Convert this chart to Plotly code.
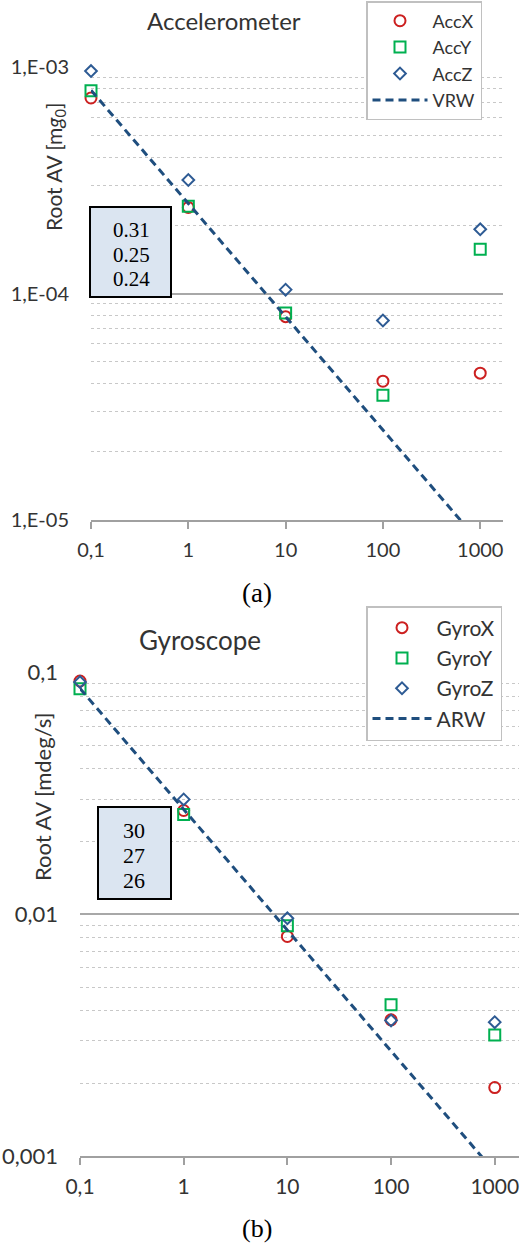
import plotly.graph_objects as go

W, H = 527, 1244

# ---------------- data ----------------
tau = [0.1, 1, 10, 100, 1000]

acc_x = [7.3e-4, 2.40e-4, 7.9e-5, 4.1e-5, 4.45e-5]
acc_y = [7.85e-4, 2.43e-4, 8.2e-5, 3.55e-5, 1.57e-4]
acc_z = [9.6e-4, 3.17e-4, 1.04e-4, 7.6e-5, 1.92e-4]
vrw_tau = [0.1, 1000]
vrw = [7.9e-4, 7.9e-6]

gyro_x = [0.0924, 0.0269, 0.0081, 0.00366, 0.00192]
gyro_y = [0.0859, 0.0259, 0.00898, 0.00423, 0.00317]
gyro_z = [0.0915, 0.0299, 0.00963, 0.00364, 0.00358]
arw_tau = [0.1, 1000]
arw = [0.086, 0.00086]

x_tickvals = [0.1, 1, 10, 100, 1000]
x_ticktext = ["0,1", "1", "10", "100", "1000"]
ya_tickvals = [1e-5, 1e-4, 1e-3]
ya_ticktext = ["1,E-05", "1,E-04", "1,E-03"]
yb_tickvals = [0.001, 0.01, 0.1]
yb_ticktext = ["0,001", "0,01", "0,1"]

box_a = ["0.31", "0.25", "0.24"]
box_b = ["30", "27", "26"]

# ---------------- styles ----------------
RED = "#cc2020"
GREEN = "#00b050"
BLUE = "#2e5b94"
NAVY = "#1f4e7e"
SANS = "Lato, 'Open Sans', sans-serif"
SERIF = "'Liberation Serif', 'Times New Roman', serif"
TXT = "#333333"


def px_x(p):
    return p / W


def px_y(p):
    return 1 - p / H


fig = go.Figure()


def add_group(xs, ys_list, names, line_x, line_y, line_name, xa, ya, legend):
    syms = [("circle-open", RED, 11), ("square-open", GREEN, 11), ("diamond-open", BLUE, 9)]
    for ys, nm, (sym, col, sz) in zip(ys_list, names, syms):
        fig.add_trace(go.Scatter(
            x=xs, y=ys, name=nm, mode="markers", xaxis=xa, yaxis=ya, legend=legend,
            marker=dict(symbol=sym, size=sz, color=col, line=dict(color=col, width=2)),
            cliponaxis=False,
        ))
    fig.add_trace(go.Scatter(
        x=line_x, y=line_y, name=line_name, mode="lines", xaxis=xa, yaxis=ya, legend=legend,
        line=dict(color=NAVY, width=3, dash="8px,5px"),
    ))


add_group(tau, [acc_x, acc_y, acc_z], ["AccX", "AccY", "AccZ"], vrw_tau, vrw, "VRW", "x", "y", "legend")
add_group(tau, [gyro_x, gyro_y, gyro_z], ["GyroX", "GyroY", "GyroZ"], arw_tau, arw, "ARW", "x2", "y2", "legend2")


def xaxis_cfg(dom, size, anchor):
    return dict(
        type="log", domain=dom, range=[-1, 3.234], anchor=anchor, automargin=False,
        tickvals=x_tickvals, ticktext=x_ticktext,
        showgrid=False, showline=True, linecolor="#a0a0a0", linewidth=1.5,
        ticks="outside", ticklen=7, tickcolor="#a0a0a0", tickwidth=1.5,
        ticklabelstandoff=4,
        tickfont=dict(family=SANS, size=size, color=TXT),
        zeroline=False, fixedrange=True,
    )


def yaxis_cfg(dom, rng, tv, tt, size, anchor):
    return dict(
        type="log", domain=dom, range=rng, anchor=anchor, automargin=False,
        tickvals=tv, ticktext=tt,
        showgrid=True, gridcolor="#a8a8a8", gridwidth=1.5,
        showline=False, ticks="", ticklabelstandoff=21,
        tickfont=dict(family=SANS, size=size, color=TXT),
        minor=dict(dtick="D1", showgrid=True, gridcolor="#c8c8c8", griddash="dot", gridwidth=1, ticks=""),
        zeroline=False, fixedrange=True,
    )


fig.update_layout(
    width=W, height=H,
    margin=dict(l=0, r=0, t=0, b=0, pad=0, autoexpand=False),
    paper_bgcolor="white", plot_bgcolor="white",
    showlegend=True,
    xaxis=xaxis_cfg([px_x(91), px_x(503)], 20, "y"),
    yaxis=yaxis_cfg([px_y(520), px_y(67)], [-5, -3], ya_tickvals, ya_ticktext, 20, "x"),
    xaxis2=xaxis_cfg([px_x(80), px_x(519)], 21, "y2"),
    yaxis2=yaxis_cfg([px_y(1156), px_y(672.7)], [-3, -1], yb_tickvals, yb_ticktext, 22, "x2"),
    legend=dict(
        x=px_x(366), y=px_y(1), xanchor="left", yanchor="top",
        bgcolor="white", bordercolor="#c0c0c0", borderwidth=1.5,
        font=dict(family=SANS, size=18, color=TXT),
        itemwidth=55, tracegroupgap=0,
    ),
    legend2=dict(
        x=px_x(366), y=px_y(606), xanchor="left", yanchor="top",
        bgcolor="white", bordercolor="#c0c0c0", borderwidth=1.5,
        font=dict(family=SANS, size=21, color=TXT),
        itemwidth=59, tracegroupgap=0,
    ),
)

annotations = [
    dict(text="Accelerometer", x=px_x(224), y=px_y(21), font=dict(family=SANS, size=24, color=TXT)),
    dict(text="Gyroscope", x=px_x(200), y=px_y(640), font=dict(family=SANS, size=26, color=TXT)),
    dict(text="Root AV [m<i>g</i><sub>0</sub>]", x=px_x(55), y=px_y(167), textangle=-90,
         font=dict(family=SANS, size=21, color=TXT)),
    dict(text="Root AV [mdeg/s]", x=px_x(42), y=px_y(797), textangle=-90,
         font=dict(family=SANS, size=22, color=TXT)),
    dict(text="(a)", x=px_x(257), y=px_y(593), font=dict(family=SERIF, size=27, color="black")),
    dict(text="(b)", x=px_x(257), y=px_y(1228), font=dict(family=SERIF, size=26, color="black")),
]
for i, t in enumerate(box_a):
    annotations.append(dict(text=t, x=px_x(131.5), y=px_y(230 + 24.5 * i),
                            font=dict(family=SERIF, size=21, color="black")))
for i, t in enumerate(box_b):
    annotations.append(dict(text=t, x=px_x(134.5), y=px_y(830 + 25 * i),
                            font=dict(family=SERIF, size=22, color="black")))
for a in annotations:
    a.update(xref="paper", yref="paper", showarrow=False, xanchor="center", yanchor="middle")
fig.update_layout(annotations=annotations)

shapes = [
    dict(type="rect", xref="paper", yref="paper",
         x0=px_x(90), x1=px_x(171), y0=px_y(297), y1=px_y(207),
         fillcolor="#dbe5f1", line=dict(color="black", width=2), layer="above"),
    dict(type="rect", xref="paper", yref="paper",
         x0=px_x(98), x1=px_x(171), y0=px_y(899), y1=px_y(807),
         fillcolor="#dbe5f1", line=dict(color="black", width=2), layer="above"),
]
fig.update_layout(shapes=shapes)

fig.write_html("out.html", config={"displayModeBar": False},
               post_script="document.body.style.margin='0';document.body.style.overflow='hidden';")
